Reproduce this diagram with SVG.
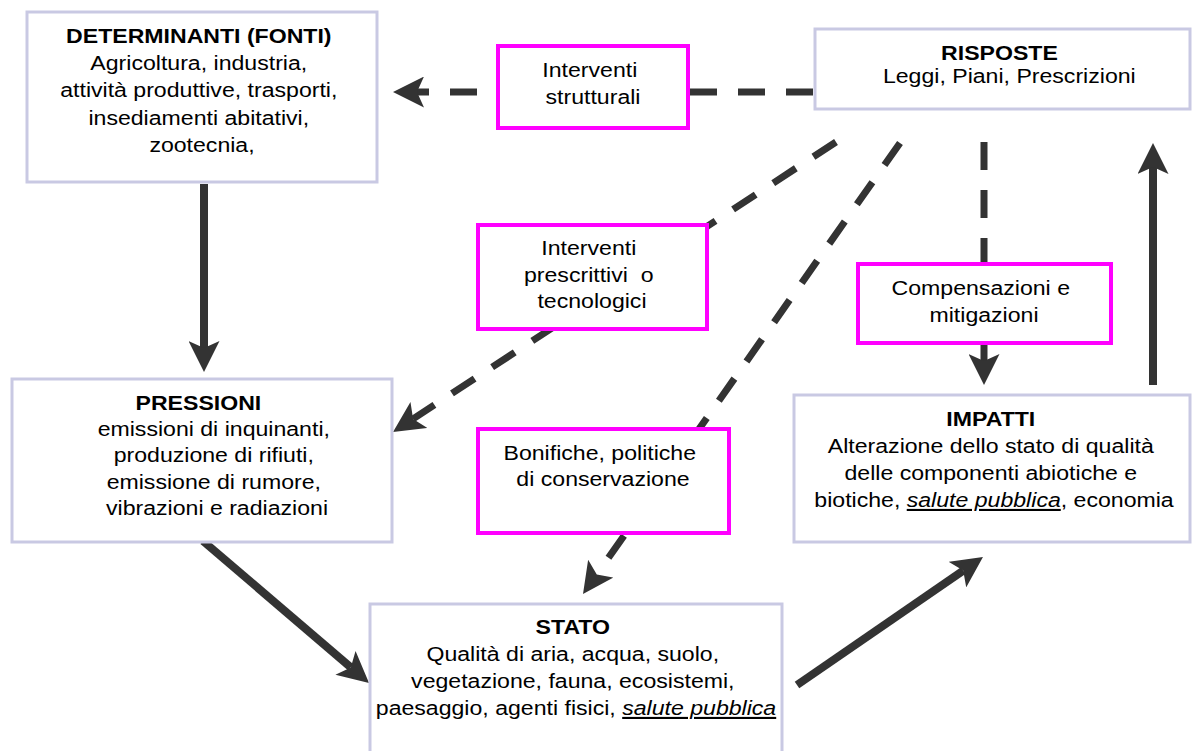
<svg xmlns="http://www.w3.org/2000/svg" width="1193" height="751" viewBox="0 0 1193 751">
<style>
.box{fill:#fff;stroke:#c9c9e3;stroke-width:3}
.lbl{fill:#fff;stroke:#ff00ff;stroke-width:4}
.t{font-family:"Liberation Sans",Arial,sans-serif;font-size:21px;fill:#000;text-anchor:middle}
.b{font-weight:bold}
.iu{font-style:italic;text-decoration:underline}
.solid{fill:none;stroke:#333;stroke-width:8;marker-end:url(#ah)}
.dash{fill:none;stroke:#333;stroke-width:7;stroke-dasharray:27 21;marker-end:url(#ah)}
</style>
<defs>
<marker id="ah" viewBox="0 0 31 31" refX="7" refY="15.5" markerWidth="31" markerHeight="31" markerUnits="userSpaceOnUse" orient="auto">
<path d="M31,15.5 L0,0 L7,15.5 L0,31 Z" fill="#333"/>
</marker>
</defs>
<rect width="1193" height="751" fill="#fff"/>
<g id="connectors">
<path class="dash" d="M813,92 L417,92"/>
<path class="solid" d="M204,184 L204,348"/>
<path class="solid" d="M203,541 L350.8,667.4"/>
<path class="solid" d="M797,685 L963.2,570.6"/>
<path class="solid" d="M1153,385 L1153,167"/>
<path class="dash" style="stroke-dasharray:28 20" d="M984,142 L984,361"/>
<path class="dash" d="M836,142 L413.1,418.9"/>
<path class="dash" d="M900,143 L596.8,574.4"/>
</g>
<g id="determinanti">
<rect class="box" x="27" y="12" width="350" height="170"/>
<text class="t" transform="translate(202 0) scale(1.1 1)">
<tspan class="b" x="0" y="43">DETERMINANTI (FONTI)</tspan>
<tspan x="0" y="70">Agricoltura, industria,</tspan>
<tspan x="0" y="97">attività produttive, trasporti,</tspan>
<tspan x="0" y="125">insediamenti abitativi,</tspan>
<tspan x="0" y="152">zootecnia,</tspan>
</text>
</g>
<g id="risposte">
<rect class="box" x="815" y="29" width="375" height="80"/>
<text class="t" transform="translate(1006 0) scale(1.1 1)">
<tspan class="b" x="-3" y="60">RISPOSTE</tspan>
<tspan x="3" y="83">Leggi, Piani, Prescrizioni</tspan>
</text>
</g>
<g id="pressioni">
<rect class="box" x="12" y="379" width="380" height="163"/>
<text class="t" transform="translate(217 0) scale(1.1 1)">
<tspan class="b" x="-14" y="410">PRESSIONI</tspan>
<tspan x="0" y="436">emissioni di inquinanti,</tspan>
<tspan x="0" y="462">produzione di rifiuti,</tspan>
<tspan x="0" y="489">emissione di rumore,</tspan>
<tspan x="0" y="515">vibrazioni e radiazioni</tspan>
</text>
</g>
<g id="stato">
<rect class="box" x="370" y="604" width="412" height="160"/>
<text class="t" transform="translate(576 0) scale(1.1 1)">
<tspan class="b" x="0" y="634">STATO</tspan>
<tspan x="0" y="661">Qualità di aria, acqua, suolo,</tspan>
<tspan x="0" y="688">vegetazione, fauna, ecosistemi,</tspan>
<tspan x="0" y="715">paesaggio, agenti fisici, <tspan class="iu">salute pubblica</tspan></tspan>
</text>
</g>
<g id="impatti">
<rect class="box" x="794" y="395" width="396" height="147"/>
<text class="t" transform="translate(994 0) scale(1.1 1)">
<tspan class="b" x="0" y="426">IMPATTI</tspan>
<tspan x="0" y="453">Alterazione dello stato di qualità</tspan>
<tspan x="0" y="480">delle componenti abiotiche e</tspan>
<tspan x="0" y="507">biotiche, <tspan class="iu">salute pubblica</tspan>, economia</tspan>
</text>
</g>
<g id="interventi-strutturali">
<rect class="lbl" x="498" y="46" width="190" height="82"/>
<text class="t" transform="translate(593 0) scale(1.1 1)">
<tspan x="0" y="77">Interventi</tspan>
<tspan x="0" y="104">strutturali</tspan>
</text>
</g>
<g id="interventi-prescrittivi">
<rect class="lbl" x="478" y="225" width="229" height="104"/>
<text class="t" transform="translate(592 0) scale(1.1 1)">
<tspan x="0" y="255">Interventi</tspan>
<tspan x="0" y="282" xml:space="preserve">prescrittivi  o</tspan>
<tspan x="0" y="308">tecnologici</tspan>
</text>
</g>
<g id="compensazioni">
<rect class="lbl" x="858" y="264" width="253" height="79"/>
<text class="t" transform="translate(984 0) scale(1.1 1)">
<tspan x="0" y="295">Compensazioni e</tspan>
<tspan x="0" y="322">mitigazioni</tspan>
</text>
</g>
<g id="bonifiche">
<rect class="lbl" x="478" y="429" width="251" height="104"/>
<text class="t" transform="translate(603 0) scale(1.1 1)">
<tspan x="0" y="460">Bonifiche, politiche</tspan>
<tspan x="0" y="486">di conservazione</tspan>
</text>
</g>
</svg>
